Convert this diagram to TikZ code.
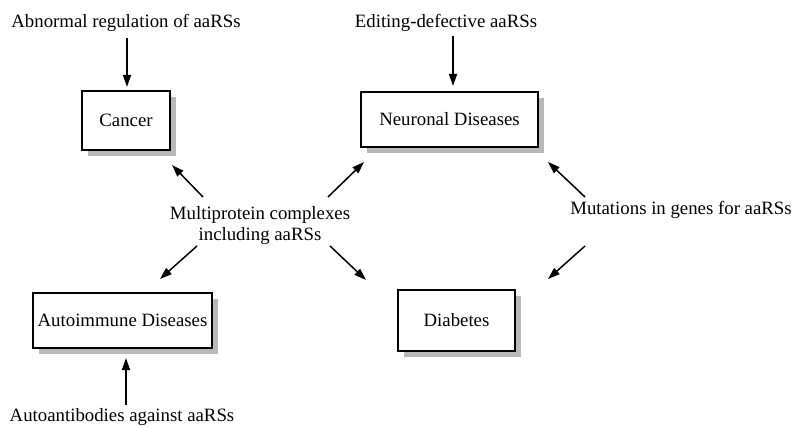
\documentclass[tikz,border=0pt]{standalone}
\usepackage{fontspec}
\setmainfont{Liberation Serif}
\usetikzlibrary{arrows.meta,shadows}
\begin{document}
\begin{tikzpicture}[x=1pt,y=-1pt,
  txt/.style={font=\fontsize{18.8}{21}\selectfont, inner sep=0pt},
  box/.style 2 args={txt, draw, line width=1.2pt, fill=white,
    minimum width=#1, minimum height=#2,
    drop shadow={shadow xshift=6pt, shadow yshift=-6pt, fill=black!28, opacity=1}},
  arr/.style={line width=1.5pt, -{Triangle[length=12pt,width=8pt]}}]
\useasboundingbox (0,0) rectangle (797,427);

% boxes
\node[box={88pt}{59pt}]  (cancer)   at (126,120.5) {Cancer};
\node[box={177pt}{55pt}] (neuronal) at (449.5,119.5) {Neuronal Diseases};
\node[box={179pt}{55pt}] (autoimm)  at (122.5,320.5) {Autoimmune Diseases};
\node[box={117pt}{61pt}] (diabetes) at (456.5,320.5) {Diabetes};

% texts
\node[txt, anchor=base] (abn)  at (126,28)  {Abnormal regulation of aaRSs};
\node[txt, anchor=base] (edit) at (446,28)  {Editing-defective aaRSs};
\node[txt, anchor=base] (auto) at (122,421) {Autoantibodies against aaRSs};
\node[txt, align=center] (multi) at (260,226) {Multiprotein complexes\\including aaRSs};
\node[txt, anchor=base] (mut) at (681,215) {Mutations in genes for aaRSs};

% arrow end points
\coordinate (a1s) at (127,38);  \coordinate (a1e) at (127,87);
\coordinate (a2s) at (453,36);  \coordinate (a2e) at (453,86);
\coordinate (a3s) at (126,405); \coordinate (a3e) at (126,358);
\coordinate (m1s) at (203,197); \coordinate (m1e) at (172,165);
\coordinate (m2s) at (328,197); \coordinate (m2e) at (364,162);
\coordinate (m3s) at (197,246); \coordinate (m3e) at (160,279);
\coordinate (m4s) at (330,246); \coordinate (m4e) at (366,280);
\coordinate (u1s) at (585,197); \coordinate (u1e) at (548,162);
\coordinate (u2s) at (585,246); \coordinate (u2e) at (548,279);

\draw[arr] (a1s) -- (a1e);
\draw[arr] (a2s) -- (a2e);
\draw[arr] (a3s) -- (a3e);
\draw[arr] (m1s) -- (m1e);
\draw[arr] (m2s) -- (m2e);
\draw[arr] (m3s) -- (m3e);
\draw[arr] (m4s) -- (m4e);
\draw[arr] (u1s) -- (u1e);
\draw[arr] (u2s) -- (u2e);
\end{tikzpicture}
\end{document}
